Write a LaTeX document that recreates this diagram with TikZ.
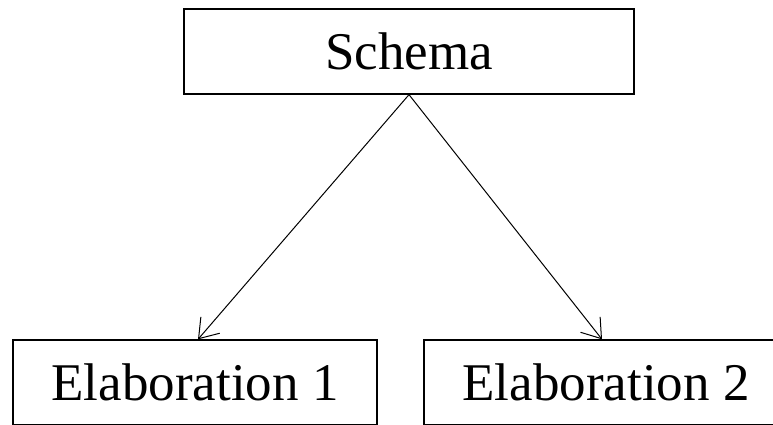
\documentclass[tikz,border=0pt]{standalone}
\usepackage{fontspec}
\setmainfont{Liberation Serif}
\usetikzlibrary{arrows.meta}
\begin{document}
\begin{tikzpicture}[x=1pt,y=1pt,
  >={Straight Barb[length=18pt,width=25pt]},
  box/.style={draw,line width=1.3pt,minimum height=85pt,inner sep=0pt,font=\fontsize{53}{60}\selectfont},
  link/.style={line width=1pt,->}]
\useasboundingbox (0,0) rectangle (773,424);
\clip (0,0) rectangle (773,424);
\fill[white] (0,0) rectangle (773,424);

\node[box,minimum width=450pt] (schema) at (409,372.5) {Schema};
\node[box,minimum width=364pt] (elab1) at (195,41.5) {Elaboration 1};
\node[box,minimum width=364pt] (elab2) at (606,41.5) {Elaboration 2};

\draw[link] (schema.south) -- ([xshift=3pt]elab1.north);
\draw[link] (schema.south) -- ([xshift=-4pt]elab2.north);

\end{tikzpicture}
\end{document}
